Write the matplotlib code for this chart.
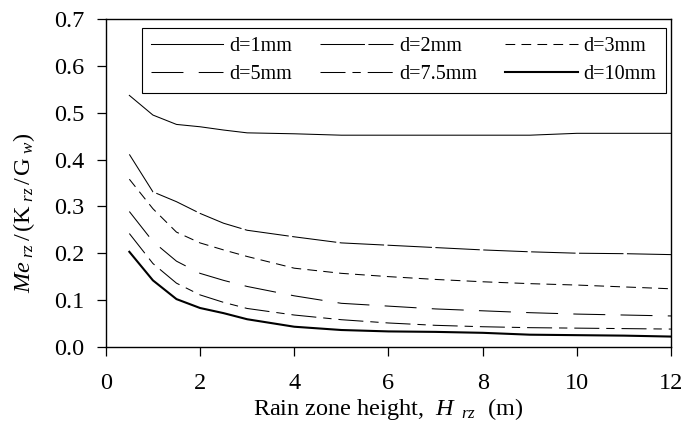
import matplotlib
matplotlib.use("Agg")
import matplotlib.pyplot as plt

plt.rcParams['font.family'] = ['Liberation Serif', 'DejaVu Serif']
plt.rcParams['mathtext.fontset'] = 'custom'
plt.rcParams['mathtext.rm'] = 'Liberation Serif'
plt.rcParams['mathtext.it'] = 'Liberation Serif:italic'
plt.rcParams['lines.scale_dashes'] = False

# Rain zone height (m)
height = [0.5, 1, 1.5, 2, 2.5, 3, 4, 5, 6, 7, 8, 9, 10, 11, 12]

# Normalised Merkel number for each droplet diameter
me_d1 = [0.537, 0.495, 0.475, 0.470, 0.463, 0.457, 0.455, 0.452, 0.452, 0.452, 0.452, 0.452, 0.456, 0.456, 0.456]
me_d2 = [0.411, 0.331, 0.310, 0.285, 0.264, 0.249, 0.235, 0.222, 0.217, 0.212, 0.207, 0.203, 0.200, 0.199, 0.197]
me_d3 = [0.358, 0.295, 0.245, 0.222, 0.207, 0.193, 0.168, 0.157, 0.150, 0.144, 0.139, 0.135, 0.132, 0.128, 0.124]
me_d5 = [0.289, 0.225, 0.183, 0.157, 0.142, 0.129, 0.109, 0.093, 0.087, 0.081, 0.077, 0.073, 0.070, 0.068, 0.066]
me_d7_5 = [0.242, 0.178, 0.136, 0.111, 0.095, 0.082, 0.068, 0.058, 0.051, 0.046, 0.043, 0.041, 0.040, 0.039, 0.038]
me_d10 = [0.203, 0.142, 0.102, 0.083, 0.072, 0.059, 0.043, 0.036, 0.033, 0.032, 0.030, 0.026, 0.025, 0.024, 0.022]

labels = ['d=1mm', 'd=2mm', 'd=3mm', 'd=5mm', 'd=7.5mm', 'd=10mm']
series = [me_d1, me_d2, me_d3, me_d5, me_d7_5, me_d10]
styles = [
    dict(lw=0.75, ls='-'),
    dict(lw=0.75, ls=(0, (32, 2.5))),
    dict(lw=0.75, ls=(0, (7, 4.5))),
    dict(lw=0.75, ls=(0, (23, 11))),
    dict(lw=0.75, ls=(0, (18, 5, 6, 5))),
    dict(lw=1.5, ls='-'),
]

xticks = [0, 2, 4, 6, 8, 10, 12]
yticks = [0.0, 0.1, 0.2, 0.3, 0.4, 0.5, 0.6, 0.7]

fig = plt.figure(figsize=(6.87, 4.43), dpi=100)
ax = fig.add_axes([0.154, 0.217, 0.823, 0.740])

lines = []
for y, lab, st in zip(series, labels, styles):
    ln, = ax.plot(height, y, color='black', label=lab, **st)
    lines.append(ln)

ax.set_xlim(0, 12)
ax.set_ylim(0, 0.7)
ax.set_xticks(xticks)
ax.set_xticklabels([str(t) for t in xticks])
ax.set_yticks(yticks)
ax.set_yticklabels([f'{t:.1f}' for t in yticks])
ax.tick_params(direction='out', length=6.5, width=0.9, labelsize=17.5,
               top=False, right=False, colors='black')
ax.tick_params(axis='y', pad=9)
ax.tick_params(axis='x', pad=12)
for sp in ax.spines.values():
    sp.set_linewidth(1.0)
    sp.set_color('black')

ax.set_xlabel(r'Rain zone height,  $\mathit{H}_{\ \ rz}$  (m)', fontsize=17.5, labelpad=2)
ax.set_ylabel(r'$Me_{\ rz}\,/\,(\mathrm{K}_{\ rz}\,/\,\mathrm{G}_{\ w})$', fontsize=17.5)
ax.yaxis.set_label_coords(-0.122, 0.41)

# legend laid out row by row across three columns
order = [0, 3, 1, 4, 2, 5]
leg = ax.legend([lines[i] for i in order], [labels[i] for i in order],
                ncol=3, loc='upper right', bbox_to_anchor=(0.99, 0.973),
                borderaxespad=0, fontsize=14.5, handlelength=3.6,
                handletextpad=0.3, columnspacing=1.4, labelspacing=0.42,
                borderpad=0.45, fancybox=False, framealpha=1,
                edgecolor='black')
leg.get_frame().set_linewidth(0.8)

fig.savefig('out.png', dpi=100)
